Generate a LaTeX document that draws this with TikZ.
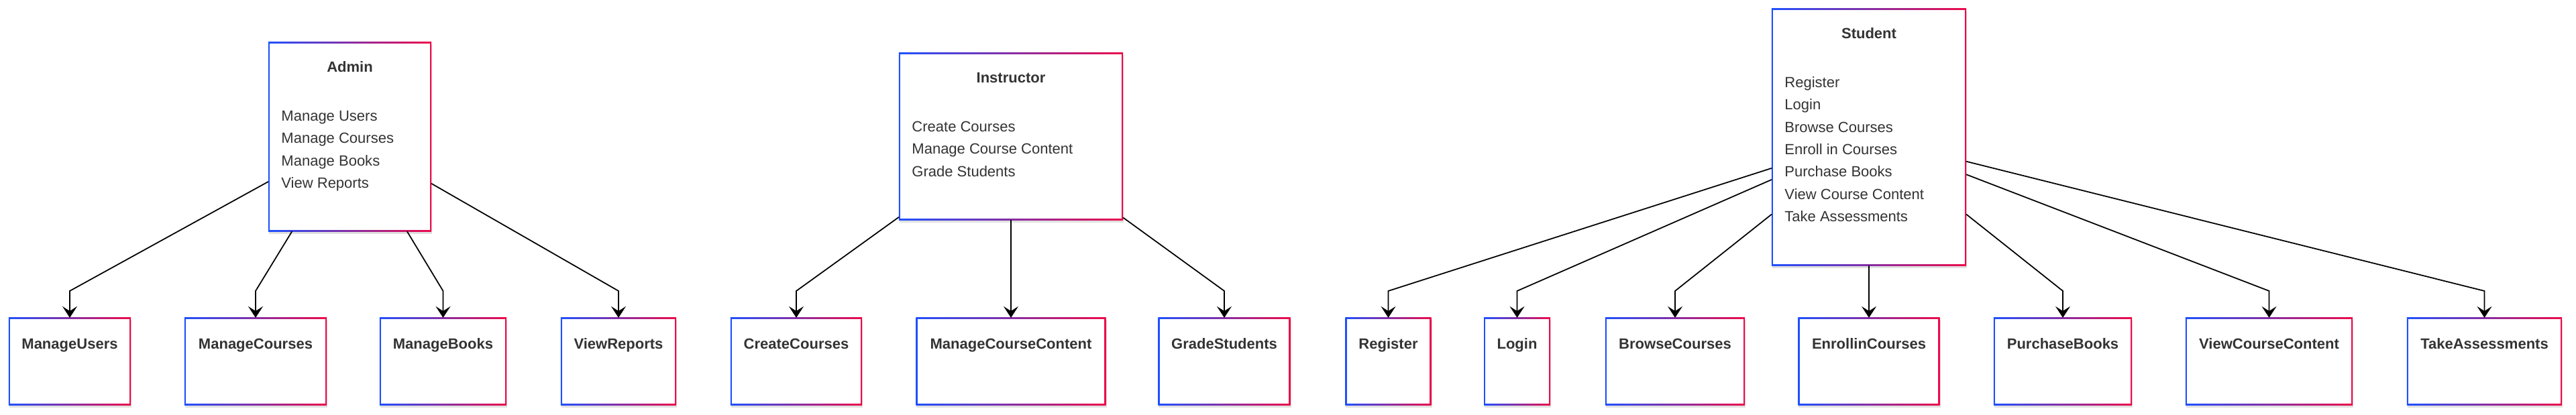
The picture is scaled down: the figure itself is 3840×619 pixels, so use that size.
\documentclass[tikz,border=0pt]{standalone}
\usepackage{fontspec}
\setmainfont{Liberation Sans}
\usetikzlibrary{arrows.meta,shadows}
\definecolor{txt}{HTML}{333333}
\definecolor{bl}{HTML}{1E50FF}
\definecolor{rd}{HTML}{EE0A4A}
\tikzset{
  gbox/.style={inner sep=0pt, outer sep=0pt, text=txt,
    font=\fontsize{6.26pt}{9.48pt}\selectfont,
    drop shadow={shadow xshift=0.01cm, shadow yshift=-0.04cm, opacity=0.12, fill=black},
    path picture={
      \shade[left color=bl, right color=rd] (path picture bounding box.south west) rectangle (path picture bounding box.north east);
      \fill[white] ([shift={(0.022cm,0.022cm)}]path picture bounding box.south west) rectangle ([shift={(-0.022cm,-0.022cm)}]path picture bounding box.north east);
    }},
  sbox/.style={gbox, minimum height=1.30cm, text height=0.47cm, text depth=0.83cm,
    font=\fontsize{6.26pt}{9.48pt}\selectfont\bfseries},
  conn/.style={draw=black, line width=0.5pt, -{Stealth[length=0.17cm, width=0.22cm, inset=0.07cm]}},
}
\newcommand{\actorbox}[4]{\parbox[c][#2][t]{#1}{\centering\rule{0pt}{0.45cm}\textbf{#3}\par
  \raggedright\leftskip=0.195cm\vspace{0.392cm}#4\par}}
\begin{document}
\begin{tikzpicture}[x=0.01cm, y=-0.01cm]
\useasboundingbox (0,0) rectangle (3840,619);
\coordinate (kink) at (0,434);
% parents
\node[gbox] (admin) at (521.5,204) {\actorbox{2.43cm}{2.82cm}{Admin}{Manage Users\\Manage Courses\\Manage Books\\View Reports}};
\node[gbox] (instr) at (1507,203.5) {\actorbox{3.34cm}{2.49cm}{Instructor}{Create Courses\\Manage Course Content\\Grade Students}};
\node[gbox] (stud) at (2786,204.5) {\actorbox{2.90cm}{3.83cm}{Student}{Register\\Login\\Browse Courses\\Enroll in Courses\\Purchase Books\\View Course Content\\Take Assessments}};
% children
\node[sbox, minimum width=1.82cm] (mu) at (104,539) {ManageUsers};
\node[sbox, minimum width=2.12cm] (mc) at (381,539) {ManageCourses};
\node[sbox, minimum width=1.89cm] (mb) at (660.5,539) {ManageBooks};
\node[sbox, minimum width=1.72cm] (vr) at (922,539) {ViewReports};
\node[sbox, minimum width=1.96cm] (cc) at (1187,539) {CreateCourses};
\node[sbox, minimum width=2.83cm] (mcc) at (1507,539) {ManageCourseContent};
\node[sbox, minimum width=1.97cm] (gs) at (1825,539) {GradeStudents};
\node[sbox, minimum width=1.28cm] (reg) at (2069.5,539) {Register};
\node[sbox, minimum width=0.99cm] (log) at (2261.5,539) {Login};
\node[sbox, minimum width=2.08cm] (bc) at (2497,539) {BrowseCourses};
\node[sbox, minimum width=2.11cm] (ec) at (2786,539) {EnrollinCourses};
\node[sbox, minimum width=2.06cm] (pb) at (3075,539) {PurchaseBooks};
\node[sbox, minimum width=2.49cm] (vcc) at (3382.5,539) {ViewCourseContent};
\node[sbox, minimum width=2.31cm] (ta) at (3703.5,539) {TakeAssessments};
% connectors
\foreach \c in {mu,mc,mb,vr}{\draw[conn] (admin) -- (\c.north |- kink) -- (\c.north);}
\foreach \c in {cc,mcc,gs}{\draw[conn] (instr) -- (\c.north |- kink) -- (\c.north);}
\foreach \c in {reg,log,bc,ec,pb,vcc,ta}{\draw[conn] (stud) -- (\c.north |- kink) -- (\c.north);}
\end{tikzpicture}
\end{document}
